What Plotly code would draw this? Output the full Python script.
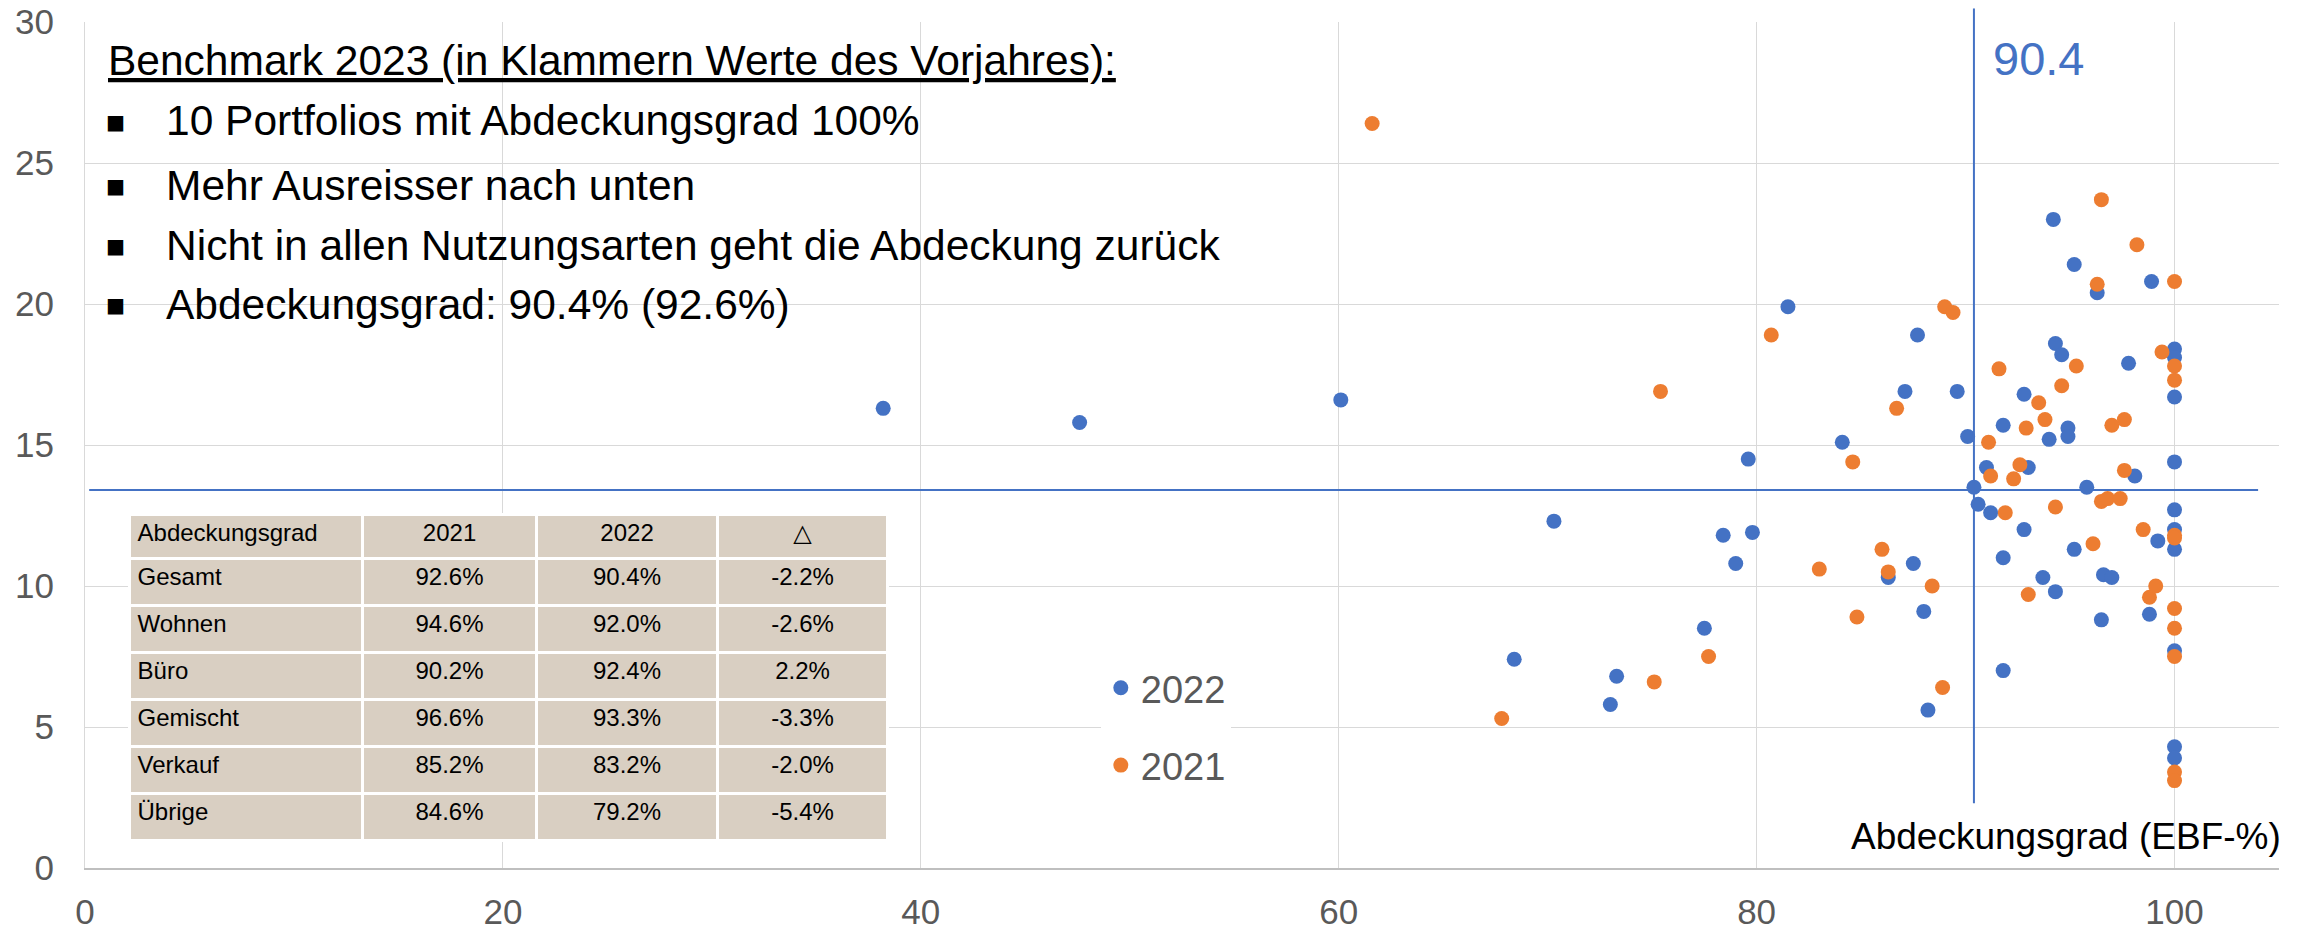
import plotly.graph_objects as go

# ---------------- data ----------------
x_2022 = [38.2, 47.6, 60.1, 68.4, 70.3, 73.0, 73.3, 77.5, 78.4, 79.0, 79.6, 79.8, 81.5, 84.1,
          86.3, 87.1, 87.5, 87.7, 88.0, 88.2, 89.6, 90.1, 90.4, 90.6, 91.0, 91.2, 91.8, 91.8,
          91.8, 92.8, 92.8, 93.0, 93.7, 94.0, 94.2, 94.3, 94.3, 94.6, 94.9, 94.9, 95.2, 95.2,
          95.8, 96.3, 96.5, 96.6, 97.0, 97.8, 98.1, 98.8, 98.9, 99.2,
          100, 100, 100, 100, 100, 100, 100, 100, 100, 100]
y_2022 = [16.3, 15.8, 16.6, 7.4, 12.3, 5.8, 6.8, 8.5, 11.8, 10.8, 14.5, 11.9, 19.9, 15.1,
          10.3, 16.9, 10.8, 18.9, 9.1, 5.6, 16.9, 15.3, 13.5, 12.9, 14.2, 12.6, 15.7, 11.0,
          7.0, 16.8, 12.0, 14.2, 10.3, 15.2, 23.0, 18.6, 9.8, 18.2, 15.6, 15.3, 21.4, 11.3,
          13.5, 20.4, 8.8, 10.4, 10.3, 17.9, 13.9, 9.0, 20.8, 11.6,
          18.4, 18.1, 16.7, 14.4, 12.7, 12.0, 11.3, 7.7, 4.3, 3.9]

x_2021 = [61.6, 67.8, 75.1, 75.4, 77.7, 80.7, 83.0, 84.6, 84.8, 86.0, 86.3, 86.7, 88.4, 88.9,
          89.0, 89.4, 91.1, 91.2, 91.6, 91.9, 92.3, 92.6, 92.9, 93.0, 93.5, 93.8, 94.3, 94.6,
          95.3, 96.1, 96.3, 96.5, 96.5, 96.8, 97.0, 97.4, 97.6, 97.6, 98.2, 98.5, 98.8, 99.1,
          99.4, 100, 100, 100, 100, 100, 100, 100, 100, 100, 100]
y_2021 = [26.4, 5.3, 6.6, 16.9, 7.5, 18.9, 10.6, 14.4, 8.9, 11.3, 10.5, 16.3, 10.0, 6.4,
          19.9, 19.7, 15.1, 13.9, 17.7, 12.6, 13.8, 14.3, 15.6, 9.7, 16.5, 15.9, 12.8, 17.1,
          17.8, 11.5, 20.7, 13.0, 23.7, 13.1, 15.7, 13.1, 15.9, 14.1, 22.1, 12.0, 9.6, 10.0,
          18.3, 20.8, 17.8, 17.3, 11.8, 11.7, 9.2, 8.5, 7.5, 3.4, 3.1]

# benchmark (mean) lines
mean_x = 90.4
mean_y = 13.4
hline_x = [0.2, 104.0]
vline_y = [2.3, 30.0]

x_ticks = [0, 20, 40, 60, 80, 100]
y_ticks = [0, 5, 10, 15, 20, 25, 30]

text_title = "Benchmark 2023 (in Klammern Werte des Vorjahres):"
text_bullets = [
    "10 Portfolios mit Abdeckungsgrad 100%",
    "Mehr Ausreisser nach unten",
    "Nicht in allen Nutzungsarten geht die Abdeckung zurück",
    "Abdeckungsgrad: 90.4% (92.6%)",
]

table_header = ["Abdeckungsgrad", "2021", "2022", "△"]
table_cat = ["Gesamt", "Wohnen", "Büro", "Gemischt", "Verkauf", "Übrige"]
table_2021 = ["92.6%", "94.6%", "90.2%", "96.6%", "85.2%", "84.6%"]
table_2022 = ["90.4%", "92.0%", "92.4%", "93.3%", "83.2%", "79.2%"]
table_delta = ["-2.2%", "-2.6%", "2.2%", "-3.3%", "-2.0%", "-5.4%"]

# ---------------- style ----------------
BLUE = "#4472C4"
ORANGE = "#ED7D31"
GRID = "#D9D9D9"
TICK = "#595959"
FONT = "Liberation Sans, Arial, DejaVu Sans, sans-serif"
BEIGE = "#D9CFC2"

fig = go.Figure()

fig.add_trace(go.Scatter(x=x_2022, y=y_2022, mode="markers", name="2022",
                         marker=dict(color=BLUE, size=15, line=dict(width=0)),
                         legendgroup="a"))
fig.add_trace(go.Scatter(x=x_2021, y=y_2021, mode="markers", name="2021",
                         marker=dict(color=ORANGE, size=15, line=dict(width=0)),
                         legendgroup="b"))

fig.add_trace(go.Scatter(x=hline_x, y=[mean_y, mean_y], mode="lines",
                         line=dict(color=BLUE, width=2), showlegend=False, hoverinfo="skip"))
fig.add_trace(go.Scatter(x=[mean_x, mean_x], y=vline_y, mode="lines",
                         line=dict(color=BLUE, width=2), showlegend=False, hoverinfo="skip"))

fig.add_trace(go.Table(
    domain=dict(x=[0.0203, 0.366], y=[0.028, 0.4173]),
    columnwidth=[233, 174, 181, 170],
    header=dict(values=table_header, fill_color=BEIGE, line=dict(color="white", width=3),
                align=["left", "center", "center", "center"],
                font=dict(family=FONT, size=24, color="black"), height=44),
    cells=dict(values=[table_cat, table_2021, table_2022, table_delta], fill_color=BEIGE,
               line=dict(color="white", width=3),
               align=["left", "center", "center", "center"],
               font=dict(family=FONT, size=24, color="black"), height=47),
))

annotations = []
# text block
annotations.append(dict(x=1.0, y=28.65, xref="x", yref="y", xanchor="left", yanchor="middle",
                        text="<u>" + text_title + "</u>", showarrow=False,
                        font=dict(family=FONT, size=42.5, color="black")))
bullet_y = [26.49, 24.22, 22.09, 20.0]
for by, bt in zip(bullet_y, text_bullets):
    annotations.append(dict(x=0.85, y=by, xref="x", yref="y", xanchor="left", yanchor="middle",
                            text="▪", showarrow=False,
                            font=dict(family="DejaVu Sans", size=31, color="black")))
    annotations.append(dict(x=3.8, y=by, xref="x", yref="y", xanchor="left", yanchor="middle",
                            text=bt, showarrow=False,
                            font=dict(family=FONT, size=42.5, color="black")))
# mean label
annotations.append(dict(x=mean_x + 0.8, y=28.69, xref="x", yref="y", xanchor="left", yanchor="middle",
                        text=f"{mean_x}", showarrow=False,
                        font=dict(family=FONT, size=47, color=BLUE)))
# axis title inside
annotations.append(dict(x=105, y=1.1, xref="x", yref="y", xanchor="right", yanchor="middle",
                        xshift=4, text="Abdeckungsgrad (EBF-%)", showarrow=False,
                        font=dict(family=FONT, size=37, color="black")))

# small extension of the vertical benchmark line above the plot top (as in the original)
shapes = [dict(type="line", xref="x", yref="paper", x0=mean_x, x1=mean_x, y0=1.0, y1=1.016,
               line=dict(color=BLUE, width=2))]

# page body has an 8px default margin -> figure is 8px smaller and offset
fig.update_layout(
    template="none",
    width=2299, height=922,
    margin=dict(l=77, r=28, t=14, b=62, autoexpand=False),
    paper_bgcolor="white", plot_bgcolor="white",
    font=dict(family=FONT, color=TICK),
    showlegend=True,
    legend=dict(x=0.463, y=0.250, xanchor="left", yanchor="top",
                bgcolor="white", borderwidth=0,
                font=dict(family=FONT, size=38, color=TICK),
                tracegroupgap=25, traceorder="grouped", itemsizing="trace"),
    annotations=annotations,
    shapes=shapes,
    xaxis=dict(range=[0, 105], tickvals=x_ticks, showgrid=True, gridcolor=GRID, gridwidth=1,
               zeroline=False, showline=True, linecolor="#BFBFBF", linewidth=2,
               ticks="", tickfont=dict(family=FONT, size=35, color=TICK),
               ticklabelstandoff=12, ticklabeloverflow="allow", automargin=False),
    yaxis=dict(range=[0, 30], tickvals=y_ticks, showgrid=True, gridcolor=GRID, gridwidth=1,
               zeroline=False, showline=True, linecolor=GRID, linewidth=1,
               ticks="", tickfont=dict(family=FONT, size=35, color=TICK),
               ticklabelstandoff=23, ticklabeloverflow="allow", automargin=False),
)

fig.write_html("out.html")
